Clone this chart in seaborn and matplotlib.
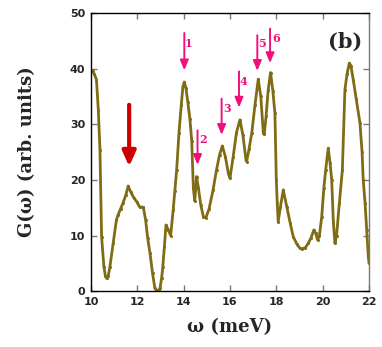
import numpy as np
import pandas as pd
import matplotlib
matplotlib.use("Agg")
import matplotlib.pyplot as plt
import seaborn as sns

# G(omega)
omega = [10.0, 10.07, 10.15, 10.24, 10.32, 10.39, 10.46, 10.56, 10.62, 10.68, 10.75,
         10.82, 10.96, 11.1, 11.17, 11.28, 11.38, 11.5, 11.61, 11.72, 11.85, 11.97,
         12.11, 12.26, 12.36, 12.45, 12.55, 12.66, 12.76, 12.85, 12.92, 12.98, 13.05,
         13.1, 13.17, 13.24, 13.34, 13.44, 13.55, 13.62, 13.7, 13.8, 13.9, 13.97, 14.03,
         14.1, 14.18, 14.27, 14.35, 14.42, 14.48, 14.56, 14.64, 14.74, 14.85, 14.96, 15.1,
         15.27, 15.42, 15.55, 15.67, 15.8, 15.93, 16.0, 16.14, 16.28, 16.43, 16.56,
         16.69, 16.72, 16.82, 16.94, 17.08, 17.22, 17.33, 17.44, 17.48, 17.56, 17.65,
         17.75, 17.85, 17.94, 18.0, 18.04, 18.08, 18.18, 18.3, 18.45, 18.6, 18.73,
         18.88, 19.02, 19.1, 19.25, 19.38, 19.5, 19.62, 19.7, 19.78, 19.86, 19.96,
         20.05, 20.13, 20.24, 20.32, 20.39, 20.46, 20.53, 20.6, 20.72, 20.85, 20.96,
         21.05, 21.15, 21.22, 21.32, 21.45, 21.61, 21.7, 21.75, 21.83, 21.9, 21.97, 22.0]
g_omega = [39.5, 39.5, 39.0, 38.0, 32.5, 25.4, 9.8, 4.4, 2.8, 2.3, 2.8,
           4.4, 8.6, 12.8, 13.7, 14.8, 15.8, 17.2, 18.9, 17.8, 16.8, 16.1,
           15.1, 15.1, 12.8, 9.5, 6.8, 3.2, 0.5, 0.0, 0.2, 0.5, 2.3,
           4.3, 8.0, 11.9, 11.0, 10.0, 14.6, 18.0, 21.8, 28.5, 33.5, 36.8, 37.6,
           36.5, 34.0, 31.0, 27.0, 18.5, 16.2, 20.6, 18.5, 15.5, 13.4, 13.2, 14.8,
           18.2, 21.8, 24.5, 26.1, 24.2, 21.2, 20.3, 24.2, 28.5, 30.8, 28.0,
           23.6, 23.3, 25.5, 28.4, 33.5, 38.1, 35.0, 28.4, 28.2, 31.5, 36.2,
           39.3, 36.0, 32.0, 20.0, 15.8, 12.5, 15.2, 18.2, 15.2, 12.2, 9.8,
           8.5, 7.7, 7.6, 7.8, 8.6, 9.6, 11.0, 10.4, 9.2, 10.0, 13.4,
           18.5, 21.8, 25.7, 23.0, 20.0, 12.5, 8.6, 10.0, 15.8, 21.8, 36.2,
           39.0, 41.0, 40.5, 38.0, 34.5, 30.2, 25.0, 20.0, 15.8, 11.0, 6.2, 5.0]

# arrow positions: (x, top, tip) and labels
peak_labels = ["1", "2", "3", "4", "5", "6"]
arrow_x = [14.03, 14.6, 15.64, 16.39, 17.18, 17.73]
arrow_top = [46.4, 28.9, 34.6, 39.5, 46.0, 47.2]
arrow_tip = [39.7, 22.7, 28.1, 33.0, 39.6, 41.0]
label_x = [14.2, 14.82, 15.88, 16.6, 17.37, 18.0]
label_y = [44.5, 27.2, 32.8, 37.6, 44.5, 45.5]

df = pd.DataFrame({"omega": omega, "G": g_omega})

sns.set_style("ticks")
fig = plt.figure(figsize=(3.82, 3.47), dpi=100)
ax = fig.add_axes([0.238, 0.161, 0.728, 0.8015])

curve = "#7f6c14"
sns.lineplot(data=df, x="omega", y="G", ax=ax, color=curve, lw=2.0,
             marker="o", markersize=2.2, markeredgewidth=0, markerfacecolor=curve)

# big red arrow
ax.annotate("", xy=(11.65, 22.4), xytext=(11.65, 33.5),
            arrowprops=dict(arrowstyle="-|>,head_width=0.4,head_length=0.9",
                            color="#cc0000", lw=3.0, shrinkA=0, shrinkB=0))

pink = "#f0107a"
for i in range(len(peak_labels)):
    ax.annotate("", xy=(arrow_x[i], arrow_tip[i]), xytext=(arrow_x[i], arrow_top[i]),
                arrowprops=dict(arrowstyle="-|>,head_width=0.25,head_length=0.6",
                                color=pink, lw=1.4, shrinkA=0, shrinkB=0))
    ax.text(label_x[i], label_y[i], peak_labels[i], color=pink, fontsize=8,
            fontweight="bold", family="DejaVu Serif", ha="center", va="center")

ax.text(20.96, 44.8, "(b)", fontsize=15, fontweight="bold", family="DejaVu Serif",
        ha="center", va="center")

ax.set_xlim(10, 22)
ax.set_ylim(0, 50)
ax.set_xticks([10, 12, 14, 16, 18, 20, 22])
ax.set_yticks([0, 10, 20, 30, 40, 50])
ax.tick_params(direction="in", length=4, width=1, color="#777777",
               top=True, right=True, labelsize=8, pad=4)
for lab in ax.get_xticklabels() + ax.get_yticklabels():
    lab.set_fontweight("bold")
for s in ax.spines.values():
    s.set_linewidth(1.0)
    s.set_color("black")
ax.spines["right"].set_color("#777777")

ax.set_xlabel("ω (meV)", fontsize=13, fontweight="bold", family="DejaVu Serif", labelpad=8)
ax.set_ylabel("G(ω) (arb. units)", fontsize=13, fontweight="bold", family="DejaVu Serif",
              labelpad=24)

fig.savefig("out.png", dpi=100)
